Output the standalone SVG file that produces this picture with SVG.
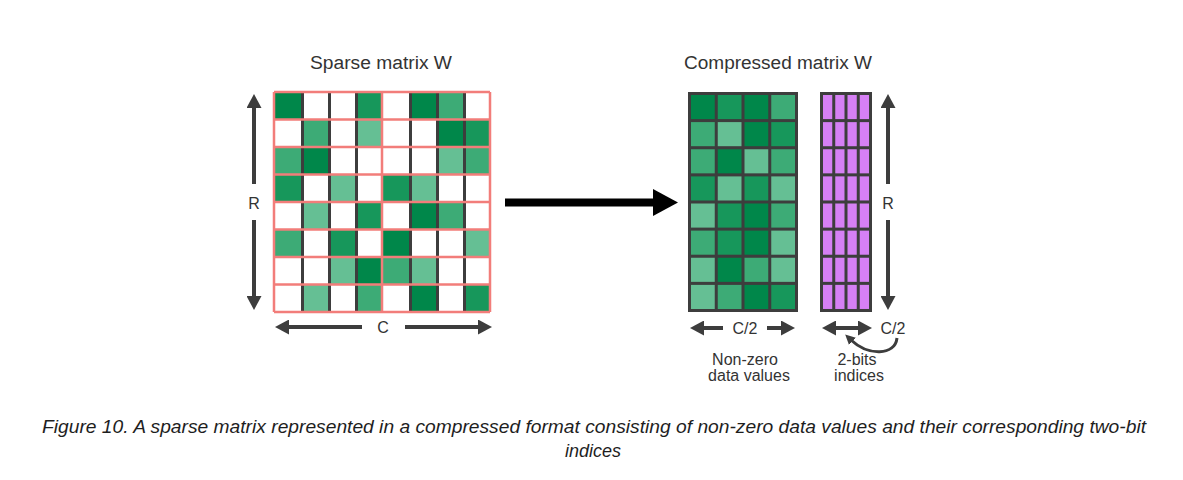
<svg xmlns="http://www.w3.org/2000/svg" width="1183" height="480" viewBox="0 0 1183 480">
<style>
.t{font-family:"Liberation Sans",Arial,sans-serif;fill:#333333;text-anchor:middle}
.title{font-size:18px}
.lbl{font-size:16px}
.cap{font-family:"Liberation Sans",Arial,sans-serif;font-style:italic;font-size:18px;fill:#1e1e1e;text-anchor:middle}
.D{fill:#00874a}.M{fill:#17975b}.L{fill:#3dab76}.LL{fill:#65bf94}
.P{fill:#d680f5}
.pink{stroke:#f27d7a;stroke-width:2.5;fill:none}
.dk{stroke:#3d3d3d;stroke-width:3}
.arr{stroke:#3d3d3d;stroke-width:4;fill:none}
</style>
<defs>
<marker id="ah" markerUnits="userSpaceOnUse" markerWidth="14" markerHeight="15" refX="0" refY="7.5" orient="auto-start-reverse" viewBox="0 0 14 15">
<path d="M0,0 L14,7.5 L0,15 z" fill="#3d3d3d"/>
</marker>
<marker id="ahs" markerUnits="userSpaceOnUse" markerWidth="10" markerHeight="10" refX="2" refY="5" orient="auto" viewBox="0 0 10 10">
<path d="M0,0 L10,5 L0,10 z" fill="#3d3d3d"/>
</marker>
</defs>
<rect width="1183" height="480" fill="#ffffff"/>

<g id="sparse-matrix">
<rect x="274" y="92" width="216" height="220" fill="#ffffff"/>
<rect class="D" x="274" y="92" width="27" height="27.5"/>
<rect class="M" x="355" y="92" width="27" height="27.5"/>
<rect class="D" x="409" y="92" width="27" height="27.5"/>
<rect class="L" x="436" y="92" width="27" height="27.5"/>
<rect class="L" x="301" y="119.5" width="27" height="27.5"/>
<rect class="LL" x="355" y="119.5" width="27" height="27.5"/>
<rect class="D" x="436" y="119.5" width="27" height="27.5"/>
<rect class="M" x="463" y="119.5" width="27" height="27.5"/>
<rect class="L" x="274" y="147" width="27" height="27.5"/>
<rect class="D" x="301" y="147" width="27" height="27.5"/>
<rect class="LL" x="436" y="147" width="27" height="27.5"/>
<rect class="L" x="463" y="147" width="27" height="27.5"/>
<rect class="M" x="274" y="174.5" width="27" height="27.5"/>
<rect class="LL" x="328" y="174.5" width="27" height="27.5"/>
<rect class="M" x="382" y="174.5" width="27" height="27.5"/>
<rect class="LL" x="409" y="174.5" width="27" height="27.5"/>
<rect class="LL" x="301" y="202" width="27" height="27.5"/>
<rect class="M" x="355" y="202" width="27" height="27.5"/>
<rect class="D" x="409" y="202" width="27" height="27.5"/>
<rect class="L" x="436" y="202" width="27" height="27.5"/>
<rect class="L" x="274" y="229.5" width="27" height="27.5"/>
<rect class="M" x="328" y="229.5" width="27" height="27.5"/>
<rect class="D" x="382" y="229.5" width="27" height="27.5"/>
<rect class="LL" x="463" y="229.5" width="27" height="27.5"/>
<rect class="LL" x="328" y="257" width="27" height="27.5"/>
<rect class="D" x="355" y="257" width="27" height="27.5"/>
<rect class="L" x="382" y="257" width="27" height="27.5"/>
<rect class="LL" x="409" y="257" width="27" height="27.5"/>
<rect class="LL" x="301" y="284.5" width="27" height="27.5"/>
<rect class="L" x="355" y="284.5" width="27" height="27.5"/>
<rect class="D" x="409" y="284.5" width="27" height="27.5"/>
<rect class="M" x="463" y="284.5" width="27" height="27.5"/>
<path class="dk" d="M302.5,92V312M329.5,92V312M356.5,92V312M410.5,92V312M437.5,92V312M464.5,92V312"/>
<path class="pink" d="M274,92H490M274,119.5H490M274,147H490M274,174.5H490M274,202H490M274,229.5H490M274,257H490M274,284.5H490M274,312H490M274,92V312M382,92V312M490,92V312"/>
</g>

<g id="compressed-values">
<rect x="688" y="92" width="110" height="220" fill="#3d3d3d"/>
<rect class="D" x="691" y="95" width="23.75" height="24.1"/>
<rect class="M" x="717.75" y="95" width="23.75" height="24.1"/>
<rect class="D" x="744.5" y="95" width="23.75" height="24.1"/>
<rect class="L" x="771.25" y="95" width="23.75" height="24.1"/>
<rect class="L" x="691" y="122.1" width="23.75" height="24.1"/>
<rect class="LL" x="717.75" y="122.1" width="23.75" height="24.1"/>
<rect class="D" x="744.5" y="122.1" width="23.75" height="24.1"/>
<rect class="M" x="771.25" y="122.1" width="23.75" height="24.1"/>
<rect class="L" x="691" y="149.25" width="23.75" height="24.1"/>
<rect class="D" x="717.75" y="149.25" width="23.75" height="24.1"/>
<rect class="LL" x="744.5" y="149.25" width="23.75" height="24.1"/>
<rect class="L" x="771.25" y="149.25" width="23.75" height="24.1"/>
<rect class="M" x="691" y="176.4" width="23.75" height="24.1"/>
<rect class="LL" x="717.75" y="176.4" width="23.75" height="24.1"/>
<rect class="M" x="744.5" y="176.4" width="23.75" height="24.1"/>
<rect class="LL" x="771.25" y="176.4" width="23.75" height="24.1"/>
<rect class="LL" x="691" y="203.5" width="23.75" height="24.1"/>
<rect class="M" x="717.75" y="203.5" width="23.75" height="24.1"/>
<rect class="D" x="744.5" y="203.5" width="23.75" height="24.1"/>
<rect class="L" x="771.25" y="203.5" width="23.75" height="24.1"/>
<rect class="L" x="691" y="230.6" width="23.75" height="24.1"/>
<rect class="M" x="717.75" y="230.6" width="23.75" height="24.1"/>
<rect class="D" x="744.5" y="230.6" width="23.75" height="24.1"/>
<rect class="LL" x="771.25" y="230.6" width="23.75" height="24.1"/>
<rect class="LL" x="691" y="257.75" width="23.75" height="24.1"/>
<rect class="D" x="717.75" y="257.75" width="23.75" height="24.1"/>
<rect class="L" x="744.5" y="257.75" width="23.75" height="24.1"/>
<rect class="LL" x="771.25" y="257.75" width="23.75" height="24.1"/>
<rect class="LL" x="691" y="284.9" width="23.75" height="24.1"/>
<rect class="L" x="717.75" y="284.9" width="23.75" height="24.1"/>
<rect class="D" x="744.5" y="284.9" width="23.75" height="24.1"/>
<rect class="M" x="771.25" y="284.9" width="23.75" height="24.1"/>
</g>

<g id="compressed-indices">
<rect x="820" y="92" width="52" height="220" fill="#3d3d3d"/>
<g id="idx-row">
<rect class="P" x="823" y="95" width="9.25" height="24.1"/>
<rect class="P" x="835.25" y="95" width="9.25" height="24.1"/>
<rect class="P" x="847.5" y="95" width="9.25" height="24.1"/>
<rect class="P" x="859.75" y="95" width="9.25" height="24.1"/>
</g>
<use href="#idx-row" y="27.125"/>
<use href="#idx-row" y="54.25"/>
<use href="#idx-row" y="81.375"/>
<use href="#idx-row" y="108.5"/>
<use href="#idx-row" y="135.625"/>
<use href="#idx-row" y="162.75"/>
<use href="#idx-row" y="189.875"/>
</g>

<g id="connectors">
<path class="arr" d="M254,184V108" marker-end="url(#ah)"/>
<path class="arr" d="M254,220V296" marker-end="url(#ah)"/>
<path class="arr" d="M362,327H289" marker-end="url(#ah)"/>
<path class="arr" d="M405,327H478" marker-end="url(#ah)"/>
<path class="arr" d="M888,184V108" marker-end="url(#ah)"/>
<path class="arr" d="M888,220V296" marker-end="url(#ah)"/>
<path class="arr" d="M723,328H704" marker-end="url(#ah)"/>
<path class="arr" d="M767,328H781" marker-end="url(#ah)"/>
<path class="arr" d="M836,328H858" marker-start="url(#ah)" marker-end="url(#ah)"/>
<path d="M897,338C895,356 868,356 851,340" stroke="#3d3d3d" stroke-width="3" fill="none" marker-end="url(#ahs)"/>
<path d="M505,202.5H655" stroke="#000" stroke-width="8" fill="none"/>
<path d="M653,189L678,202.5L653,216z" fill="#000"/>
</g>

<g id="labels">
<text class="t title" x="381" y="69" textLength="142" lengthAdjust="spacingAndGlyphs">Sparse matrix W</text>
<text class="t title" x="778" y="69" textLength="188" lengthAdjust="spacingAndGlyphs">Compressed matrix W</text>
<text class="t lbl" x="254" y="209">R</text>
<text class="t lbl" x="888" y="209">R</text>
<text class="t lbl" x="383" y="333">C</text>
<text class="t lbl" x="745" y="334">C/2</text>
<text class="t lbl" x="893" y="334">C/2</text>
<text class="t lbl" x="745" y="365">Non-zero</text>
<text class="t lbl" x="749" y="381">data values</text>
<text class="t lbl" x="857" y="365">2-bits</text>
<text class="t lbl" x="859" y="381">indices</text>
<text class="cap" x="594" y="433" textLength="1104" lengthAdjust="spacingAndGlyphs">Figure 10. A sparse matrix represented in a compressed format consisting of non-zero data values and their corresponding two-bit</text>
<text class="cap" x="593" y="457">indices</text>
</g>
</svg>
